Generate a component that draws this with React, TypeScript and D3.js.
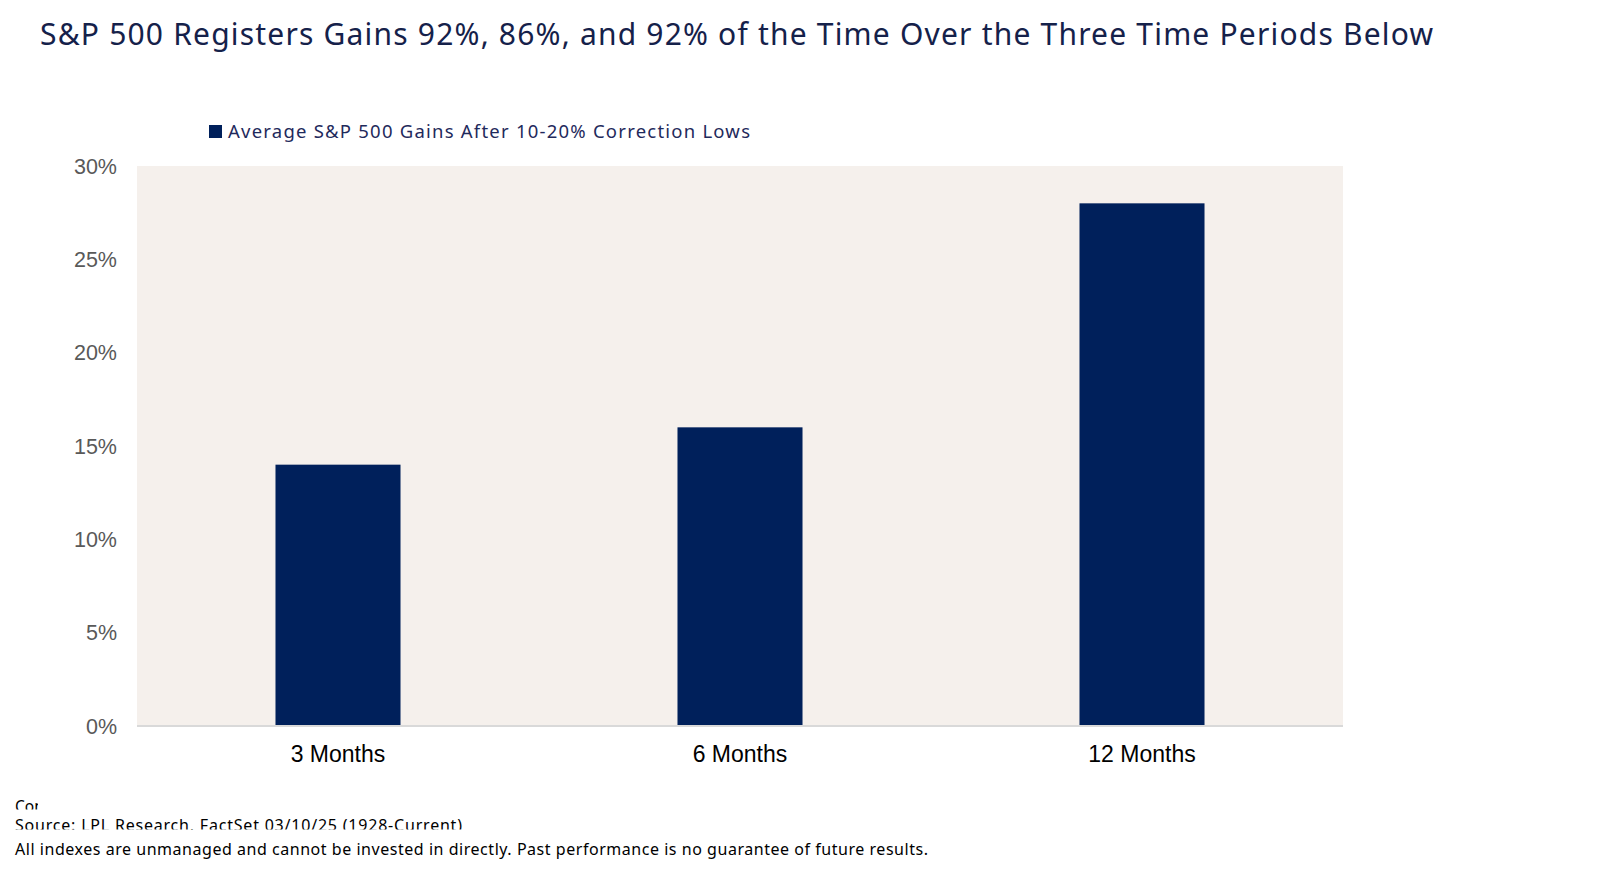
import React from "react";
import * as d3 from "d3";

const categories = ["3 Months", "6 Months", "12 Months"];
const gains = [14, 16, 28];
const yTicks = [0, 5, 10, 15, 20, 25, 30];
const title = "S&P 500 Registers Gains 92%, 86%, and 92% of the Time Over the Three Time Periods Below";
const legendLabel = "Average S&P 500 Gains After 10-20% Correction Lows";
const footerLines = [
  "Content",
  "Source: LPL Research, FactSet 03/10/25 (1928-Current)",
  "All indexes are unmanaged and cannot be invested in directly. Past performance is no guarantee of future results.",
];

const W = 1600;
const H = 870;
const plot = { left: 137, right: 1343, top: 166, bottom: 726 };
const titleFont = "'Noto Sans', 'DejaVu Sans', sans-serif";
const axisFont = "'Liberation Sans', Arial, sans-serif";

export default function App() {
  const x = d3
    .scaleBand<string>()
    .domain(categories)
    .range([plot.left, plot.right])
    .paddingInner(0.689)
    .paddingOuter(0.3445);
  const y = d3.scaleLinear().domain([0, 30]).range([plot.bottom, plot.top]);

  return (
    <svg
      width={W}
      height={H}
      viewBox={`0 0 ${W} ${H}`}
      style={{ position: "absolute", left: 0, top: 0, background: "#ffffff" }}
    >
      <defs>
        <clipPath id="clipCo">
          <rect x={0} y={790} width={38} height={19.5} />
        </clipPath>
        <clipPath id="clipSrc">
          <rect x={0} y={812} width={600} height={17.5} />
        </clipPath>
      </defs>
      <rect x={0} y={0} width={W} height={H} fill="#ffffff" />
      <text
        x={40}
        y={45}
        fontFamily={titleFont}
        fontSize={30}
        fill="#15214a"
        textLength={1393}
        lengthAdjust="spacing"
      >
        {title}
      </text>

      {/* legend */}
      <rect x={209} y={125} width={13} height={13} fill="#00205b" />
      <text
        x={228}
        y={138}
        fontFamily={titleFont}
        fontSize={18.5}
        fill="#1f2a5c"
        textLength={522}
        lengthAdjust="spacing"
      >
        {legendLabel}
      </text>

      {/* plot background */}
      <rect
        x={plot.left}
        y={plot.top}
        width={plot.right - plot.left}
        height={plot.bottom - plot.top}
        fill="#f5f0ec"
      />

      {/* bars */}
      {categories.map((c, i) => (
        <rect
          key={c}
          x={x(c)}
          y={y(gains[i])}
          width={x.bandwidth()}
          height={y(0) - y(gains[i])}
          fill="#00205b"
        />
      ))}

      {/* baseline */}
      <line
        x1={plot.left}
        x2={plot.right}
        y1={y(0)}
        y2={y(0)}
        stroke="#d9d9d9"
        strokeWidth={2}
      />

      {/* y ticks */}
      {yTicks.map((t) => (
        <text
          key={t}
          x={117}
          y={y(t)}
          dy="0.36em"
          textAnchor="end"
          fontFamily={axisFont}
          fontSize={21.5}
          fill="#595959"
        >
          {`${t}%`}
        </text>
      ))}

      {/* x labels */}
      {categories.map((c) => (
        <text
          key={c}
          x={(x(c) as number) + x.bandwidth() / 2}
          y={761.5}
          textAnchor="middle"
          fontFamily={axisFont}
          fontSize={23}
          fill="#000000"
        >
          {c}
        </text>
      ))}

      {/* footer */}
      <g clipPath="url(#clipCo)">
        <text x={15} y={812} fontFamily={titleFont} fontSize={15.5} fill="#000000">
          {footerLines[0]}
        </text>
      </g>
      <g clipPath="url(#clipSrc)">
        <text
          x={15}
          y={831}
          fontFamily={titleFont}
          fontSize={16}
          fill="#000000"
          textLength={447}
          lengthAdjust="spacing"
        >
          {footerLines[1]}
        </text>
      </g>
      <text
        x={15}
        y={855}
        fontFamily={titleFont}
        fontSize={16}
        fill="#000000"
        textLength={913}
        lengthAdjust="spacing"
      >
        {footerLines[2]}
      </text>
    </svg>
  );
}
